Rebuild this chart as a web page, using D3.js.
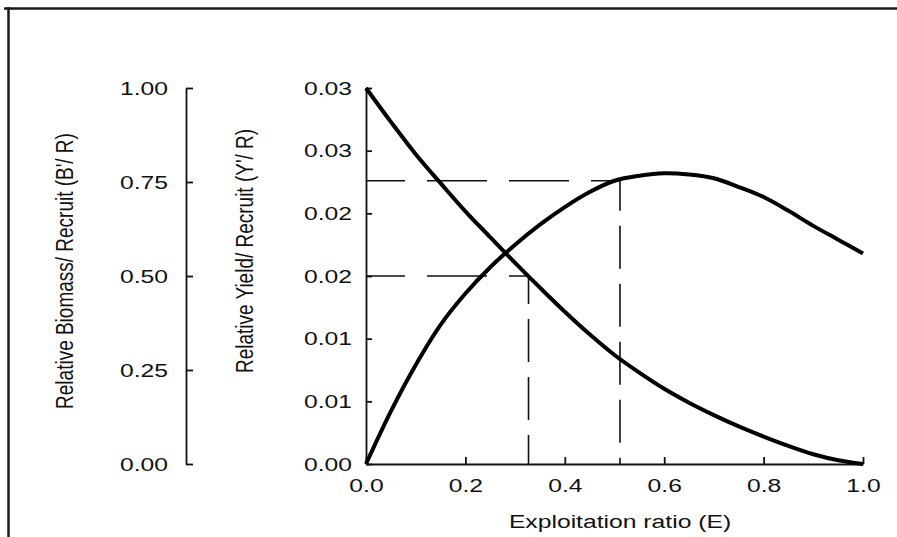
<!DOCTYPE html>
<html>
<head>
<meta charset="utf-8">
<script src="https://cdn.jsdelivr.net/npm/d3@7"></script>
<style>
  html, body { margin: 0; padding: 0; background: #fff; }
  svg { display: block; }
  text { font-family: "Liberation Sans", Arial, sans-serif; fill: #111; }
</style>
</head>
<body>
<svg id="chart" width="897" height="537"></svg>
<script>
// ---- data ----
const exploitation = [0, 0.05, 0.10, 0.15, 0.20, 0.25, 0.30, 0.35, 0.40, 0.45, 0.50,
                      0.55, 0.60, 0.65, 0.70, 0.75, 0.80, 0.85, 0.90, 0.95, 1.00];
const relYield = [0, 0.0042, 0.0079, 0.0111, 0.0136, 0.0157, 0.0175, 0.0191, 0.0205, 0.0217, 0.0226,
                  0.0230, 0.0232, 0.0231, 0.0228, 0.0221, 0.0213, 0.0202, 0.0190, 0.0179, 0.0168];
const relBiomass = [1.00, 0.910, 0.824, 0.747, 0.672, 0.603, 0.535, 0.469, 0.405, 0.345, 0.290,
                    0.243, 0.200, 0.163, 0.130, 0.100, 0.073, 0.048, 0.026, 0.010, 0.000];
const xTicks = [0, 0.2, 0.4, 0.6, 0.8, 1.0];
const xTickLabels = ["0.0", "0.2", "0.4", "0.6", "0.8", "1.0"];
const biomassTicks = [0, 0.25, 0.5, 0.75, 1.0];
const biomassTickLabels = ["0.00", "0.25", "0.50", "0.75", "1.00"];
const yieldTicks = [0, 0.005, 0.010, 0.015, 0.020, 0.025, 0.030];
const yieldTickLabels = ["0.00", "0.01", "0.01", "0.02", "0.02", "0.03", "0.03"];
const e50 = 0.327, biomassAtE50 = 0.5;
const eMax = 0.511, yieldAtEMax = 0.0226;
const xTitle = "Exploitation ratio (E)";
const biomassTitle = "Relative Biomass/ Recruit (B'/ R)";
const yieldTitle = "Relative Yield/ Recruit (Y'/ R)";

// ---- layout ----
const svg = d3.select("#chart");
const FS = 19, SX = 1.3;
const x = d3.scaleLinear().domain([0, 1]).range([366, 863]);
const yB = d3.scaleLinear().domain([0, 1]).range([464, 88]);
const yY = d3.scaleLinear().domain([0, 0.03]).range([464, 88]);

// frame lines (top & left)
svg.append("line").attr("x1", 4).attr("x2", 897).attr("y1", 8.5).attr("y2", 8.5)
  .attr("stroke", "#1a1a1a").attr("stroke-width", 2.5);
svg.append("line").attr("x1", 8.5).attr("x2", 8.5).attr("y1", 7).attr("y2", 537)
  .attr("stroke", "#1a1a1a").attr("stroke-width", 2.5);

function styleAxis(g) {
  g.selectAll(".domain").attr("stroke", "#111").attr("stroke-width", 1.8);
  g.selectAll(".tick line").attr("stroke", "#111").attr("stroke-width", 1.8);
  g.selectAll(".tick text")
    .attr("font-size", FS)
    .style("font-family", '"Liberation Sans", Arial, sans-serif')
    .attr("fill", "#111")
    .each(function() {
      const t = d3.select(this);
      const px = +t.attr("x") || 0, py = +t.attr("y") || 0;
      t.attr("x", 0).attr("y", 0)
       .attr("transform", `translate(${px},${py}) scale(${SX},1)`);
    });
}

// left biomass axis
const gB = svg.append("g").attr("transform", "translate(186,0)")
  .call(d3.axisLeft(yB).tickValues(biomassTicks)
    .tickFormat((d, i) => biomassTickLabels[i])
    .tickSizeInner(-7).tickSizeOuter(0).tickPadding(18));
styleAxis(gB);

// middle yield axis
const gY = svg.append("g").attr("transform", "translate(366,0)")
  .call(d3.axisLeft(yY).tickValues(yieldTicks)
    .tickFormat((d, i) => yieldTickLabels[i])
    .tickSizeInner(-6).tickSizeOuter(0).tickPadding(14));
styleAxis(gY);

// x axis
const gX = svg.append("g").attr("transform", "translate(0,464)")
  .call(d3.axisBottom(x).tickValues(xTicks)
    .tickFormat((d, i) => xTickLabels[i])
    .tickSizeInner(-7).tickSizeOuter(0).tickPadding(15));
styleAxis(gX);

// dashed reference lines
const dash = svg.append("g").attr("fill", "none").attr("stroke", "#111").attr("stroke-width", 1.6);
dash.append("line")
  .attr("x1", x(0)).attr("x2", x(eMax)).attr("y1", yY(yieldAtEMax)).attr("y2", yY(yieldAtEMax))
  .attr("stroke-dasharray", "60,22").attr("stroke-dashoffset", 21);
dash.append("line")
  .attr("x1", x(eMax)).attr("x2", x(eMax)).attr("y1", yY(yieldAtEMax)).attr("y2", yY(0))
  .attr("stroke-dasharray", "43,15").attr("stroke-dashoffset", 13);
dash.append("line")
  .attr("x1", x(0)).attr("x2", x(e50)).attr("y1", yB(biomassAtE50)).attr("y2", yB(biomassAtE50))
  .attr("stroke-dasharray", "60,22").attr("stroke-dashoffset", 21);
dash.append("line")
  .attr("x1", x(e50)).attr("x2", x(e50)).attr("y1", yB(biomassAtE50)).attr("y2", yB(0))
  .attr("stroke-dasharray", "43,15").attr("stroke-dashoffset", 15);

// curves
const lineY = d3.line().x((d, i) => x(exploitation[i])).y(d => yY(d)).curve(d3.curveCatmullRom);
const lineB = d3.line().x((d, i) => x(exploitation[i])).y(d => yB(d)).curve(d3.curveCatmullRom);
svg.append("path").datum(relYield).attr("d", lineY)
  .attr("fill", "none").attr("stroke", "#000").attr("stroke-width", 4).attr("stroke-linejoin", "round");
svg.append("path").datum(relBiomass).attr("d", lineB)
  .attr("fill", "none").attr("stroke", "#000").attr("stroke-width", 4).attr("stroke-linejoin", "round");

// titles
svg.append("text").text(xTitle)
  .attr("font-size", FS).attr("text-anchor", "middle")
  .attr("transform", `translate(620,528) scale(${SX},1)`);
svg.append("text").text(biomassTitle)
  .attr("font-size", FS).attr("text-anchor", "middle").attr("dominant-baseline", "central")
  .attr("transform", `translate(65,271) scale(${SX},1) rotate(-90)`);
svg.append("text").text(yieldTitle)
  .attr("font-size", FS).attr("text-anchor", "middle").attr("dominant-baseline", "central")
  .attr("transform", `translate(245,251) scale(${SX},1) rotate(-90)`);
</script>
</body>
</html>
